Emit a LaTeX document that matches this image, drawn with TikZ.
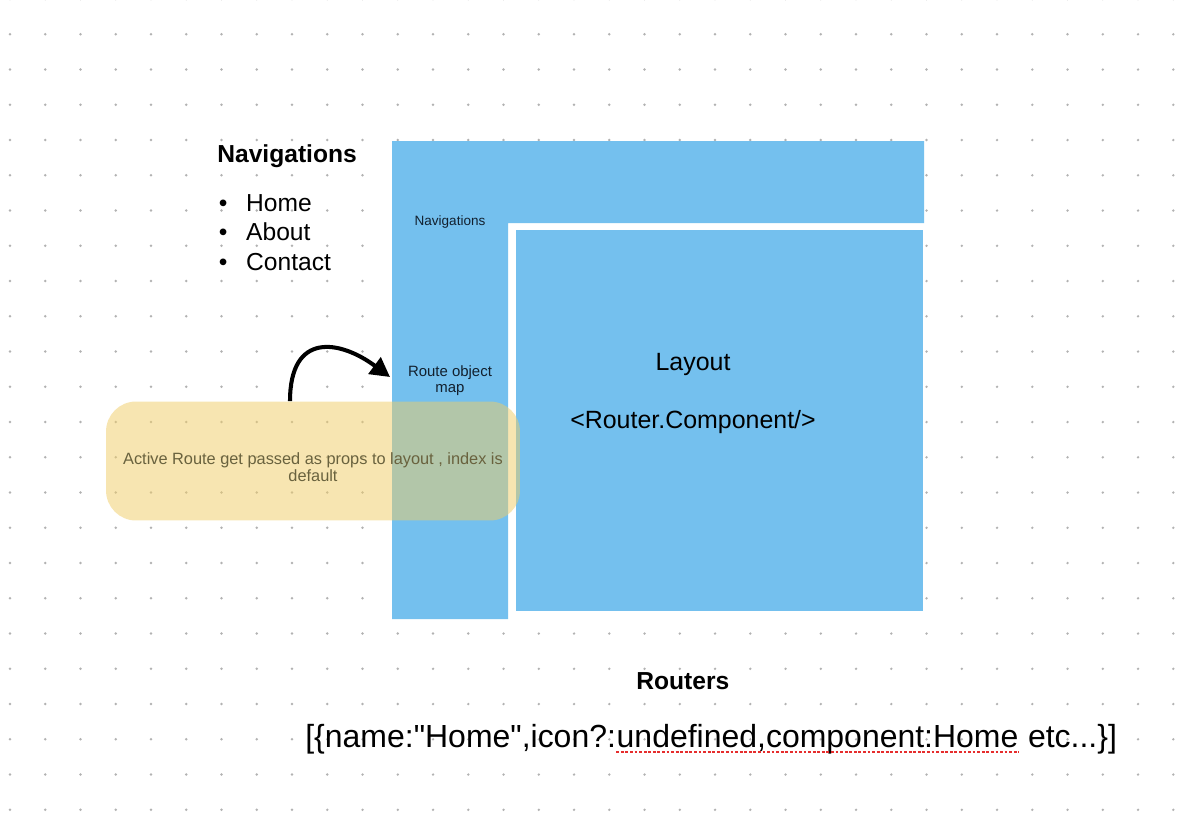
\documentclass[tikz,border=0pt]{standalone}
\usepackage{fontspec}
\newfontfamily\uifont{Liberation Sans}
\usetikzlibrary{arrows.meta,positioning}
\definecolor{myblue}{RGB}{116,192,238}
\definecolor{myyellow}{RGB}{241,205,101}
\definecolor{mydot}{RGB}{178,178,178}
\definecolor{mynote}{RGB}{105,98,62}
\definecolor{myink}{RGB}{18,32,46}
\definecolor{myred}{RGB}{230,45,45}

\begin{document}
\begin{tikzpicture}[
  x=0.02cm, y=-0.02cm,
  every node/.style={font=\uifont, inner sep=0pt},
  myheading/.style={
    font=\uifont\bfseries\fontsize{14}{17}\selectfont,
    anchor=base west
    },
  myitem/.style={
    font=\uifont\fontsize{14}{17}\selectfont,
    anchor=base west
    },
  mysmall/.style={
    text=myink,
    align=center,
    font=\uifont\fontsize{#1}{9}\selectfont
    },
  mylarge/.style={
    font=\uifont\fontsize{14.2}{17}\selectfont
    },
  mynotebox/.style={
    rectangle,
    rounded corners=0.6cm,
    fill=myyellow,
    fill opacity=0.5,
    minimum width=8.28cm,
    minimum height=2.38cm
    },
  mylist/.style={
    font=\uifont\fontsize{18.2}{22}\selectfont,
    anchor=base west
    }
]
\useasboundingbox[fill=white] (0,0) rectangle (1200,822);

% dotted canvas
\foreach \row in {0,...,23}
  \foreach \col in {0,...,33}
    \fill[mydot] ({10+35.25*\col},{-0.95+35.25*\row}) circle[radius=0.75pt];

% page frame: navigation bar and layout area
\fill[myblue] (392,141) -- (924,141) -- (924,223) -- (508,223) -- (508,619) -- (392,619) -- cycle;
\fill[myblue] (516,230) rectangle (923,611);

\node[mysmall=7.7] (navlabel) at (450,222) {Navigations};
\node[mysmall=8.5] (routemap) at (450,381) {Route object\\map};
\node[mylarge] (layouttitle) at (693,364) {Layout};
\node[mylarge] (routercomp) at (693,422) {<Router.Component/>};

% navigation list
\node[myheading] (navhead) at (217,162) {Navigations};
\foreach \Entry [count=\Entryi from 0] in {Home,About,Contact}
  \node[myitem] (item\Entryi) at (218.6,{211.7+29.2*\Entryi})
    {\makebox[15.5pt][l]{\textbullet}\Entry};

% note
\node[mynotebox] (note) at (313,461) {};
\node[text=mynote, align=center, font=\uifont\fontsize{9.3}{9.7}\selectfont]
  (notetext) at (313,467)
  {Active Route get passed as props to layout , index is\\default};

\coordinate (arrowtip) at (390,377);
\draw[line width=2.3pt, -{Triangle[length=11pt,width=11.5pt]}]
  ([xshift=-23*0.02cm]note.north) .. controls +(0,-70) and (340,340) .. (arrowtip);

% routers
\node[myheading] (routershead) at (636,689) {Routers};
\node[mylist] (listA) at (305,747) {[\{name:"Home",icon?:};
\node[mylist, right=0pt of listA.base east, anchor=base west] (listB) {undefined,component:Home};
\node[mylist, right=0pt of listB.base east, anchor=base west] (listC) {\ etc...\}]};
\draw[myred, line width=1.1pt, dash pattern=on 1.6pt off 1pt]
  ([yshift=-2.8pt]listB.base west) -- ([yshift=-2.8pt]listB.base east);

\end{tikzpicture}
\end{document}
